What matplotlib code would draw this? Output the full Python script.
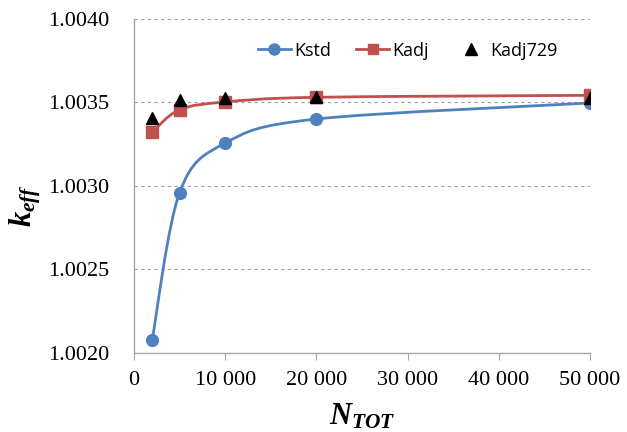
import numpy as np
import matplotlib.pyplot as plt
from matplotlib.path import Path
from matplotlib.patches import PathPatch
from matplotlib.lines import Line2D
from matplotlib.ticker import FuncFormatter, MultipleLocator

plt.rcParams['mathtext.fontset'] = 'custom'
plt.rcParams['mathtext.rm'] = 'Liberation Serif:bold:italic'
plt.rcParams['mathtext.it'] = 'Liberation Serif:bold:italic'
plt.rcParams['mathtext.bf'] = 'Liberation Serif:bold:italic'

n_tot = np.array([2000, 5000, 10000, 20000, 50000])
k_std = np.array([1.00208, 1.00296, 1.003257, 1.003401, 1.003497])
k_adj = np.array([1.003323, 1.003457, 1.003503, 1.003531, 1.003543])
k_adj729 = np.array([1.003405, 1.003517, 1.003528, 1.003532, 1.003528])

blue = '#4F81BD'
red = '#C0504D'


def smooth_path(x, y):
    # Excel-like smoothed line: Catmull-Rom segments as cubic Bezier
    pts = np.column_stack([x, y]).astype(float)
    n = len(pts)
    verts = [pts[0]]
    codes = [Path.MOVETO]
    for i in range(n - 1):
        p0 = pts[i - 1] if i > 0 else pts[i]
        p1 = pts[i]
        p2 = pts[i + 1]
        p3 = pts[i + 2] if i + 2 < n else pts[i + 1]
        c1 = p1 + (p2 - p0) / 6.0
        c2 = p2 - (p3 - p1) / 6.0
        verts += [c1, c2, p2]
        codes += [Path.CURVE4] * 3
    return Path(verts, codes)


fig = plt.figure(figsize=(6.27, 4.32), dpi=100)
ax = fig.add_axes([0.2137, 0.183, 0.7273, 0.773])

for y, c in [(k_std, blue), (k_adj, red)]:
    ax.add_patch(PathPatch(smooth_path(n_tot, y), fill=False, edgecolor=c,
                           lw=2.0, zorder=3))

ax.plot(n_tot, k_std, 'o', color=blue, ms=8.5, zorder=4)
ax.plot(n_tot, k_adj, 's', color=red, ms=8, zorder=4)
ax.plot(n_tot, k_adj729, '^', color='black', ms=9, zorder=5)

ax.set_xlim(0, 50000)
ax.set_ylim(1.0020, 1.0040)
ax.xaxis.set_major_locator(MultipleLocator(10000))
ax.yaxis.set_major_locator(MultipleLocator(0.0005))
ax.xaxis.set_major_formatter(FuncFormatter(lambda v, p: f"{int(v):,}".replace(',', ' ')))
ax.yaxis.set_major_formatter(FuncFormatter(lambda v, p: f"{v:.4f}"))

ax.grid(False)
ax.yaxis.grid(True, color='#a0a0a0', ls=(0, (3, 3)), lw=0.8)
ax.set_axisbelow(True)
for s in ['top', 'right']:
    ax.spines[s].set_visible(False)
for s in ['left', 'bottom']:
    ax.spines[s].set_color('#a6a6a6')
    ax.spines[s].set_linewidth(1.0)
ax.tick_params(axis='x', direction='out', length=5, color='#a6a6a6', pad=8)
ax.tick_params(axis='y', length=0, pad=18)
for lab in ax.get_xticklabels() + ax.get_yticklabels():
    lab.set_fontfamily('Liberation Serif')
    lab.set_fontsize(16)

ax.set_xlabel('$N_{TOT}$', fontsize=22, labelpad=8)
ax.set_ylabel('$k_{eff}$', fontsize=22)
ax.yaxis.set_label_coords(-0.199, 0.44)

handles = [
    Line2D([], [], color=blue, marker='o', ms=8, lw=2),
    Line2D([], [], color=red, marker='s', ms=7.5, lw=2),
    Line2D([], [], color='black', marker='^', ls='none', ms=8.5),
]
ax.legend(handles, ['Kstd', 'Kadj', 'Kadj729'], ncol=3, frameon=False,
          loc='center right', bbox_to_anchor=(0.965, 0.905),
          prop={'family': 'Open Sans', 'size': 13}, handlelength=1.8,
          handletextpad=0.2, columnspacing=1.4)

fig.savefig('out.png', dpi=100)
